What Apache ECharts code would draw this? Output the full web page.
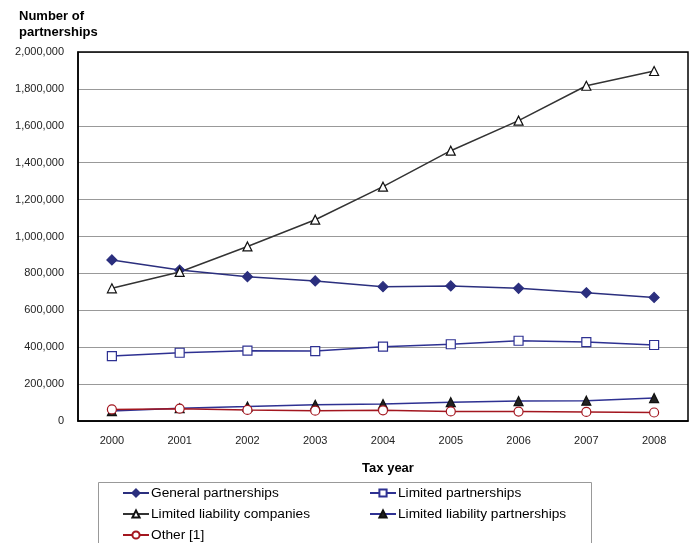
<!DOCTYPE html>
<html>
<head>
<meta charset="utf-8">
<script src="https://cdn.jsdelivr.net/npm/echarts@6/dist/echarts.min.js"></script>
<style>
    html, body { margin: 0; padding: 0; background: #fff; }
    #chart { width: 696px; height: 543px; }
</style>
</head>
<body>
<div id="chart"></div>
<script>
const years = ["2000", "2001", "2002", "2003", "2004", "2005", "2006", "2007", "2008"];
const generalPartnerships = [873000, 818000, 782000, 759000, 728000, 732000, 719000, 695000, 670000];
const limitedPartnerships = [352000, 370000, 381000, 379000, 403000, 416000, 435000, 428000, 412000];
const llcs = [719000, 808000, 946000, 1091000, 1270000, 1465000, 1628000, 1817000, 1897000];
const llps = [54000, 69000, 78000, 88000, 92000, 102000, 108000, 110000, 124000];
const others = [63000, 67000, 60000, 56000, 58000, 52000, 51000, 49000, 46000];

const chart = echarts.init(document.getElementById("chart"));
const font = "Liberation Sans, Arial, sans-serif";

function lineSeries(name, data, color, symbol, fill, lineColor) {
    return {
        name: name,
        type: "line",
        data: data,
        symbol: symbol,
        symbolSize: symbol === "diamond" ? 10 : 9,
        lineStyle: { color: lineColor || color, width: 1.5 },
        itemStyle: { color: fill, borderColor: color, borderWidth: 1.2 },
        emphasis: { disabled: true }
    };
}

// one legend per entry so the boxed two-column layout can be placed by hand
function legendEntry(name, left, top) {
    return {
        left: left, top: top,
        padding: 0,
        itemWidth: 26, itemHeight: 9,
        textStyle: { fontFamily: font, fontSize: 13.7, color: "#000", padding: [0, 0, 0, -3] },
        data: [name]
    };
}

chart.setOption({
    animation: false,
    textStyle: { fontFamily: font },
    grid: { left: 78, right: 8, top: 52, bottom: 122 },
    title: [
        {
            text: "Number of\npartnerships",
            left: 14, top: 3,
            textStyle: { fontFamily: font, fontSize: 13, fontWeight: "bold", color: "#000", lineHeight: 16 }
        },
        {
            text: "Tax year",
            left: 383, top: 457, textAlign: "center",
            textStyle: { fontFamily: font, fontSize: 13, fontWeight: "bold", color: "#000" }
        }
    ],
    xAxis: {
        type: "category",
        data: years,
        boundaryGap: true,
        axisLine: { lineStyle: { color: "#000", width: 1.5 } },
        axisTick: { inside: true, length: 4, lineStyle: { color: "#000" } },
        axisLabel: { color: "#222", fontSize: 11, margin: 14 }
    },
    yAxis: {
        type: "value",
        min: 0, max: 2000000, interval: 200000,
        axisLine: { show: true, lineStyle: { color: "#000", width: 1.5 } },
        axisTick: { show: false },
        axisLabel: {
            color: "#222", fontSize: 11, margin: 14,
            formatter: v => v.toLocaleString("en-US")
        },
        splitLine: { lineStyle: { color: "#999", width: 1 } }
    },
    graphic: [
        {
            type: "rect",
            shape: { x: 78, y: 52, width: 610, height: 369 },
            style: { fill: "none", stroke: "#000", lineWidth: 1.5 },
            silent: true, z: 10
        },
        {
            type: "rect",
            shape: { x: 98.5, y: 482.5, width: 493, height: 70 },
            style: { fill: "#fff", stroke: "#999", lineWidth: 1 },
            silent: true, z: 0
        }
    ],
    legend: [
        legendEntry("General partnerships", 122, 486),
        legendEntry("Limited partnerships", 369, 486),
        legendEntry("Limited liability companies", 122, 507),
        legendEntry("Limited liability partnerships", 369, 507),
        legendEntry("Other [1]", 122, 528)
    ],
    series: [
        lineSeries("General partnerships", generalPartnerships, "#2B2F7E", "diamond", "#2B2F7E"),
        lineSeries("Limited partnerships", limitedPartnerships, "#2E3192", "rect", "#fff"),
        lineSeries("Limited liability companies", llcs, "#111", "triangle", "#fff", "#333"),
        lineSeries("Limited liability partnerships", llps, "#111", "triangle", "#222", "#2E3192"),
        lineSeries("Other [1]", others, "#A3161F", "circle", "#fff")
    ]
});
</script>
</body>
</html>
